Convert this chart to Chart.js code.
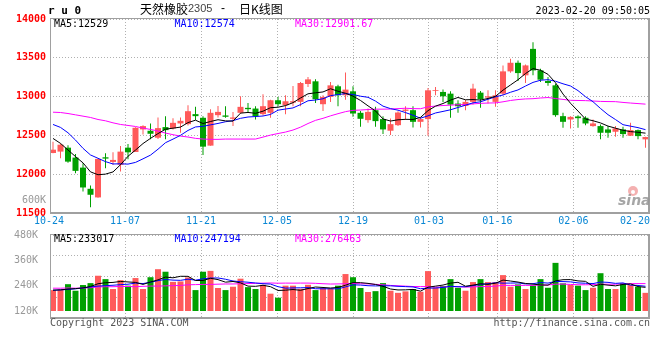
<!DOCTYPE html>
<html><head><meta charset="utf-8">
<script src="https://cdn.jsdelivr.net/npm/chart.js@4.4.1/dist/chart.umd.min.js"></script>
<style>
html,body{margin:0;padding:0;background:#fff;}
#wrap{position:relative;width:660px;height:360px;overflow:hidden;}
canvas{position:absolute;left:0;top:0;}
</style></head><body>
<div id="wrap"><canvas id="vol" width="660" height="360"></canvas><canvas id="main" width="660" height="360"></canvas></div>
<script>
// ---------- data ----------
const dates = ['10-24','10-25','10-26','10-27','10-28','10-31','11-01','11-02','11-03','11-04',
'11-07','11-08','11-09','11-10','11-11','11-14','11-15','11-16','11-17','11-18',
'11-21','11-22','11-23','11-24','11-25','11-28','11-29','11-30','12-01','12-02',
'12-05','12-06','12-07','12-08','12-09','12-12','12-13','12-14','12-15','12-16',
'12-19','12-20','12-21','12-22','12-23','12-26','12-27','12-28','12-29','12-30',
'01-03','01-04','01-05','01-06','01-09','01-10','01-11','01-12','01-13',
'01-16','01-17','01-18','01-19','01-20','01-30','01-31','02-01','02-02','02-03',
'02-06','02-07','02-08','02-09','02-10','02-13','02-14','02-15','02-16','02-17','02-20'];
const open = [12273,12291,12342,12214,12085,11812,11701,12218,12158,12120,
12342,12286,12577,12560,12470,12607,12590,12654,12645,12774,
12727,12368,12761,12757,12714,12791,12855,12846,12774,12791,
12953,12889,12923,12932,13162,13197,12902,12996,13133,13017,
13068,12791,12697,12825,12710,12560,12632,12816,12825,12675,
12710,13075,13060,13038,12910,12880,12932,13051,12987,12932,
13038,13325,13436,13274,13615,13338,13201,13145,12748,12705,
12744,12727,12620,12620,12577,12547,12577,12496,12568,12449];
const high = [12419,12397,12372,12261,12141,11855,12200,12269,12282,12363,
12389,12605,12632,12654,12731,12748,12722,12731,12889,12868,
12748,12838,12880,12876,12803,13004,12919,12876,13030,12961,
12996,13017,13137,13188,13252,13222,13017,13188,13154,13312,
13133,12816,12846,12868,12748,12718,12812,12876,12876,12731,
13111,13124,13090,13068,12953,12961,13167,13073,13081,13081,
13402,13487,13466,13415,13701,13359,13252,13167,12791,12748,
12761,12748,12705,12641,12620,12620,12611,12662,12577,12483];
const low = [12270,12205,12149,12013,11778,11573,11695,12077,12120,12034,
12192,12286,12513,12449,12453,12449,12577,12534,12628,12697,
12248,12368,12731,12727,12620,12782,12791,12705,12757,12727,
12876,12774,12876,12876,13124,12919,12816,12932,12876,12961,
12739,12611,12662,12611,12517,12504,12620,12697,12602,12602,
12496,13017,12932,12727,12791,12825,12897,12855,12910,12868,
13017,13308,13201,13175,13274,13188,13141,12739,12598,12590,
12598,12632,12611,12449,12470,12483,12470,12491,12449,12342];
const close = [12316,12380,12162,12043,11829,11735,12197,12201,12184,12291,
12282,12598,12620,12521,12594,12568,12662,12688,12812,12748,
12355,12791,12803,12740,12731,12868,12838,12748,12876,12953,
12902,12940,12940,13175,13222,12966,12996,13145,13017,13090,
12782,12714,12803,12684,12577,12645,12795,12833,12675,12710,
13081,13085,13004,12897,12876,12932,13103,12966,13004,13017,
13325,13436,13303,13402,13338,13218,13175,12761,12675,12739,
12722,12654,12654,12534,12534,12590,12517,12568,12491,12479];
const ma5 = [12461,12397,12312,12227,12146,12030,11993,12001,12029,12122,
12231,12311,12395,12462,12523,12580,12593,12607,12665,12696,
12653,12679,12702,12687,12684,12787,12796,12785,12812,12857,
12863,12884,12922,12982,13036,13049,13060,13101,13069,13043,
13006,12950,12881,12815,12712,12685,12701,12707,12705,12732,
12819,12877,12911,12955,12989,12959,12962,12955,12976,13004,
13083,13150,13217,13297,13361,13339,13287,13179,13033,12914,
12814,12710,12689,12661,12620,12593,12566,12549,12540,12529];
const ma10 = [12641,12603,12534,12440,12333,12248,12205,12162,12132,12134,
12130,12152,12198,12246,12322,12406,12452,12501,12564,12609,
12617,12636,12654,12676,12690,12720,12737,12743,12750,12770,
12825,12840,12854,12897,12946,12956,12972,13012,13026,13039,
13027,13005,12991,12942,12877,12845,12825,12794,12760,12722,
12752,12789,12809,12830,12860,12889,12920,12933,12966,12997,
13021,13056,13086,13136,13183,13211,13218,13198,13165,13137,
13077,12999,12934,12847,12767,12704,12638,12619,12600,12574];
const ma30 = [12799,12795,12782,12765,12748,12731,12705,12688,12662,12641,
12628,12615,12594,12577,12556,12530,12509,12491,12479,12462,
12453,12449,12449,12453,12453,12453,12453,12453,12478,12504,
12524,12543,12569,12606,12653,12694,12720,12752,12780,12806,
12823,12827,12833,12838,12838,12840,12845,12850,12845,12844,
12868,12878,12885,12890,12895,12897,12906,12913,12917,12919,
12933,12950,12962,12970,12973,12982,12988,12975,12964,12952,
12950,12948,12943,12938,12936,12935,12925,12917,12910,12903];
// volume in thousands (K)
const volume = [219,222,247,216,243,252,287,271,224,266,
240,276,224,280,318,306,258,260,279,219,
306,310,229,219,235,273,233,224,244,202,
183,240,240,225,244,219,229,227,240,295,
280,229,210,214,252,216,206,213,224,211,
309,232,238,271,230,216,257,271,257,257,
290,235,246,224,241,271,230,348,251,244,
240,219,230,299,224,224,252,243,235,206];
const volMa5 = [219,220,224,226,229.4,236,249,253.8,255.4,260,
257.6,255.4,246,257.2,267.6,280.8,277.2,284.4,284.2,264.4,
264.4,274.8,268.6,256.6,259.8,253.2,237.8,236.8,241.8,235.2,
217.2,218.6,221.8,218,226.4,233.6,231.4,228.8,231.8,242,
254.2,254.2,250.8,245.6,237,224.2,219.6,220.2,222.2,214,
232.6,237.8,242.8,252.2,256,237.4,242.4,249,246.2,251.6,
266.4,262,257,250.4,247.2,243.4,242.4,262.8,268.2,268.8,
262.6,260.4,236.8,246.4,242.4,239.2,245.8,248.4,235.6,232];
const volMa10 = [218,220,222,225,229,234,238,240,242,244.7,
246.8,252.2,249.9,256.3,263.8,269.2,266.3,265.2,270.7,266,
272.6,276,276.5,270.4,262.1,258.8,256.3,252.7,249.2,247.5,
235.2,228.2,229.3,229.9,230.8,225.4,225,225.3,224.9,234.2,
243.9,242.8,239.8,238.7,239.5,239.2,236.9,235.5,233.9,225.5,
228.4,228.7,231.5,237.2,235,235,240.1,245.9,249.2,253.8,
251.9,252.2,253,248.3,249.4,254.9,252.2,259.9,259.3,258,
253,251.4,249.8,257.3,255.6,250.9,253.1,242.6,241,237.2];
const volMa30 = [228,228,229,228,229,230,234,235,235,236,
236,235,237,238,238,239,240,241,244,245,
246,246,247,248,248,249,250,251,252,252.7,
251.5,252.1,251.9,252.2,252.2,251.1,249.2,247.7,248.3,249.2,
250.6,249,248.5,246.3,244.1,241.1,239.4,237.8,236,235.7,
235.8,233.2,233.5,235.3,235.1,233.2,234,235.6,236,237.8,
241.4,241.2,241.4,241.4,241.3,243,243.1,247.1,247.5,245.8,
244.4,244.1,244.8,247.6,246.7,246.9,248.5,249.5,249.8,249.7];
const priceTicks = [11500,12000,12500,13000,13500,14000];
const volTicks = [120,240,360,480];
const tickLabels = ['10-24','11-07','11-21','12-05','12-19','01-03','01-16','02-06','02-20'];
const legendMain = ['MA5:12529','MA10:12574','MA30:12901.67'];
const legendVol = ['MA5:233017','MA10:247194','MA30:276463'];

// ---------- styling / layout ----------
const RED = '#ff5a5a', GREEN = '#00a000';
const MA_COLORS = ['#000000','#0000ff','#ff00ff'];
const GRID = '#b0b0b0', FRAME = '#a0a0a0';
const MONO = '"DejaVu Sans Mono", monospace';
const X_MIN = -0.4, X_MAX = dates.length - 0.4;
const tickIdx = tickLabels.map(l => dates.indexOf(l));
// Sina spaces its date grid slightly wider (7.6px) than candle slots (7.5px)
const gridValue = i => (7.6 * i - 1) / 7.5 + X_MIN;
const gridTicks = tickIdx.slice(1, -1).map(gridValue);
const up = i => close[i] >= open[i];
const colorAt = ctx => up(ctx.dataIndex) ? RED : GREEN;
const pts = arr => arr.map((v, i) => ({x: i, y: v}));

Chart.defaults.font.family = MONO;
Chart.defaults.font.size = 10;

function xScale() {
  return {
    type: 'linear', min: X_MIN, max: X_MAX, offset: false,
    grid: {color: GRID, lineWidth: 1, drawTicks: false, offset: false},
    border: {display: false, dash: [1, 2]},
    ticks: {display: false},
    afterBuildTicks: s => { s.ticks = gridTicks.map(v => ({value: v})); },
    afterFit: s => { s.height = 0; }
  };
}
function maLine(arr, k) {
  return {type: 'line', data: pts(arr), borderColor: MA_COLORS[k], borderWidth: 1,
    pointRadius: 0, tension: 0, order: 1};
}
const framePlugin = {
  id: 'frame',
  afterDraw(chart) {
    const {ctx, chartArea: a} = chart;
    ctx.save(); ctx.fillStyle = FRAME;
    ctx.fillRect(a.left, a.top - 1, a.right - a.left, 1);
    ctx.fillRect(a.left, a.top - 1, 1, a.bottom - a.top + 1);
    ctx.fillRect(a.right - 2, a.top - 1, 2, a.bottom - a.top + 1);
    ctx.fillRect(a.left, a.bottom - 1, a.right - a.left, 2);
    ctx.restore();
  }
};
const textPlugin = {
  id: 'texts',
  afterDraw(chart) {
    const c = chart.ctx, a = chart.chartArea, xs = chart.scales.x;
    c.save();
    c.textBaseline = 'middle'; c.textAlign = 'left';
    c.fillStyle = '#000'; c.font = 'bold 11px ' + MONO; c.fillText('r u 0', 48, 11);
    c.font = '12px "Noto Sans CJK SC"'; c.fillText('天然橡胶', 140, 9);
    c.fillStyle = '#444'; c.font = '11px "Liberation Sans"'; c.fillText('2305', 188, 9);
    c.fillStyle = '#000'; c.font = '12px "Liberation Sans"'; c.fillText('-', 221, 9);
    c.font = '12px "Noto Sans CJK SC"'; c.fillText('日K线图', 239, 9);
    c.font = '10px ' + MONO; c.textAlign = 'right';
    c.fillText('2023-02-20 09:50:05', 650, 11);
    // legends
    c.textAlign = 'left';
    const lx = [54, 174.5, 295];
    legendMain.forEach((t, k) => { c.fillStyle = MA_COLORS[k]; c.fillText(t, lx[k], 24); });
    legendVol.forEach((t, k) => { c.fillStyle = MA_COLORS[k]; c.fillText(t, lx[k], 239); });
    // date labels
    c.fillStyle = '#0a87d4';
    tickLabels.forEach((t, k) => {
      const px = xs.getPixelForValue(gridValue(tickIdx[k]));
      const w = c.measureText(t).width;
      c.fillText(t, Math.min(px - w / 2, a.right - w), 221);
    });
    // volume overflow label
    c.fillStyle = '#999'; c.textAlign = 'right'; c.fillText('600K', 46, 200);
    // footer
    c.fillStyle = '#555'; c.textAlign = 'left'; c.fillText('Copyright 2023 SINA.COM', 50, 323);
    c.textAlign = 'right'; c.fillText('http://finance.sina.com.cn', 650, 323);
    // sina watermark
    c.fillStyle = 'rgba(240,150,150,0.75)';
    c.beginPath(); c.arc(633, 191, 5, 0, Math.PI * 2); c.fill();
    c.fillStyle = '#fff'; c.beginPath(); c.arc(633, 192, 2, 0, Math.PI * 2); c.fill();
    c.fillStyle = 'rgba(150,150,150,0.85)'; c.textAlign = 'left'; c.textBaseline = 'alphabetic';
    c.font = 'italic bold 14px "DejaVu Sans"'; c.fillText('sina', 618, 205);
    c.restore();
  }
};

// ---------- main (price) chart ----------
new Chart(document.getElementById('main'), {
  data: {
    datasets: [
      {type: 'bar', data: dates.map((d, i) => ({x: i, y: [low[i], high[i]]})),
       backgroundColor: colorAt, grouped: false, barPercentage: 1, categoryPercentage: 1,
       maxBarThickness: 1, borderWidth: 0, borderSkipped: false, inflateAmount: 0, order: 3},
      {type: 'bar', data: dates.map((d, i) => ({x: i, y: [open[i], close[i]]})),
       backgroundColor: colorAt, grouped: false, barPercentage: 1, categoryPercentage: 0.8,
       maxBarThickness: 6, borderWidth: 0, borderSkipped: false, inflateAmount: 0, order: 2},
      maLine(ma5, 0), maLine(ma10, 1), maLine(ma30, 2)
    ]
  },
  options: {
    responsive: false, animation: false, devicePixelRatio: 1,
    layout: {padding: {left: 0, right: 10, top: 19, bottom: 147}},
    plugins: {legend: {display: false}, tooltip: {enabled: false}},
    scales: {
      x: xScale(),
      y: {
        type: 'linear', min: priceTicks[0], max: priceTicks[priceTicks.length - 1],
        grid: {color: GRID, lineWidth: 1, drawTicks: false},
        border: {display: false, dash: [1, 2]},
        ticks: {color: '#ff0000', padding: 4, font: {family: MONO, size: 10, weight: 'bold'}, callback: v => String(v)},
        afterBuildTicks: s => { s.ticks = priceTicks.map(v => ({value: v})); },
        afterFit: s => { s.width = 50; }
      }
    }
  },
  plugins: [framePlugin, textPlugin]
});

// ---------- volume chart ----------
new Chart(document.getElementById('vol'), {
  data: {
    datasets: [
      {type: 'bar', data: volume.map((v, i) => ({x: i, y: v})), base: volTicks[0],
       backgroundColor: colorAt, grouped: false, barPercentage: 1, categoryPercentage: 0.8,
       maxBarThickness: 6, borderWidth: 0, borderSkipped: false, inflateAmount: 0, order: 2},
      maLine(volMa5, 0), maLine(volMa10, 1), maLine(volMa30, 2)
    ]
  },
  options: {
    responsive: false, animation: false, devicePixelRatio: 1,
    layout: {padding: {left: 0, right: 10, top: 235, bottom: 42}},
    plugins: {legend: {display: false}, tooltip: {enabled: false}},
    scales: {
      x: xScale(),
      y: {
        type: 'linear', position: 'left', min: 86.8, max: volTicks[volTicks.length - 1],
        grid: {display: false}, border: {display: false},
        ticks: {color: '#999', padding: 4, font: {family: MONO, size: 10}, callback: v => v + 'K'},
        afterBuildTicks: s => { s.ticks = volTicks.map(v => ({value: v})); },
        afterFit: s => { s.width = 50; }
      },
      yg: {
        type: 'linear', position: 'left', min: 0, max: 4,
        grid: {color: GRID, lineWidth: 1, drawTicks: false},
        border: {display: false, dash: [1, 2]},
        ticks: {display: false, stepSize: 1},
        afterFit: s => { s.width = 0; }
      }
    }
  },
  plugins: [framePlugin]
});
</script>
</body></html>
